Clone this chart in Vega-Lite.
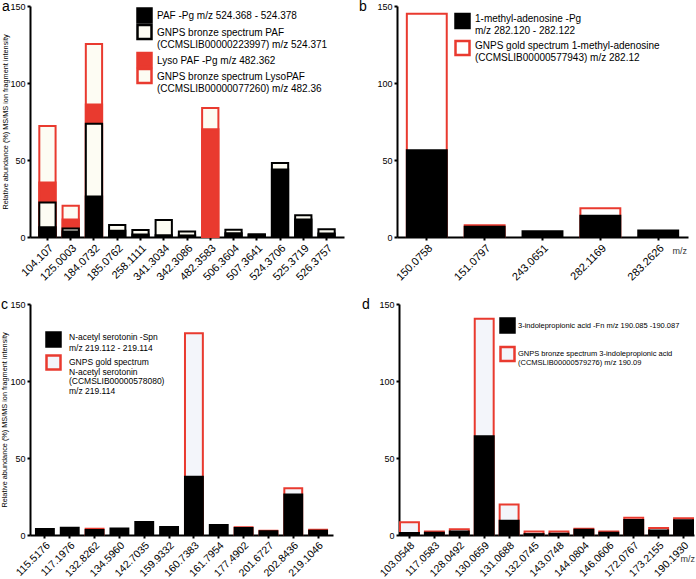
{
  "$schema": "https://vega.github.io/schema/vega-lite/v6.json",
  "padding": {"left": 0, "top": 0, "right": 2, "bottom": 0},
  "background": "white",
  "datasets": {
    "a": [
      {"mz": "104.107", "s": "GL", "v": 72}, {"mz": "104.107", "s": "L", "v": 35.4}, {"mz": "104.107", "s": "GP", "v": 22.4}, {"mz": "104.107", "s": "P", "v": 6.3},
      {"mz": "125.0003", "s": "GL", "v": 20.3}, {"mz": "125.0003", "s": "L", "v": 11.4}, {"mz": "125.0003", "s": "GP", "v": 5.6}, {"mz": "125.0003", "s": "P", "v": 3.6},
      {"mz": "184.0732", "s": "GL", "v": 125.4}, {"mz": "184.0732", "s": "L", "v": 86}, {"mz": "184.0732", "s": "GP", "v": 73.6}, {"mz": "184.0732", "s": "P", "v": 26.3},
      {"mz": "185.0762", "s": "GP", "v": 7.8}, {"mz": "185.0762", "s": "P", "v": 4},
      {"mz": "258.1111", "s": "GP", "v": 4.5}, {"mz": "258.1111", "s": "P", "v": 1.7},
      {"mz": "341.3034", "s": "GP", "v": 11}, {"mz": "341.3034", "s": "P", "v": 1.2},
      {"mz": "342.3086", "s": "GP", "v": 3.5}, {"mz": "342.3086", "s": "P", "v": 1},
      {"mz": "482.3583", "s": "GL", "v": 83.7}, {"mz": "482.3583", "s": "L", "v": 70},
      {"mz": "506.3604", "s": "GP", "v": 4.7}, {"mz": "506.3604", "s": "P", "v": 2.4},
      {"mz": "507.3641", "s": "GP", "v": 1.7}, {"mz": "507.3641", "s": "P", "v": 1.7},
      {"mz": "524.3706", "s": "GP", "v": 48}, {"mz": "524.3706", "s": "P", "v": 43.8},
      {"mz": "525.3719", "s": "GP", "v": 14.2}, {"mz": "525.3719", "s": "P", "v": 11.4},
      {"mz": "526.3757", "s": "GP", "v": 5}, {"mz": "526.3757", "s": "P", "v": 2.2}
    ],
    "b": [
      {"mz": "150.0758", "s": "G", "v": 145}, {"mz": "150.0758", "s": "S", "v": 56.4},
      {"mz": "151.0797", "s": "G", "v": 7.6}, {"mz": "151.0797", "s": "S", "v": 6.7},
      {"mz": "243.0651", "s": "S", "v": 3.7},
      {"mz": "282.1169", "s": "G", "v": 18.6}, {"mz": "282.1169", "s": "S", "v": 13.8},
      {"mz": "283.2626", "s": "S", "v": 4.3}
    ],
    "c": [
      {"mz": "115.5176", "s": "S", "v": 3.9},
      {"mz": "117.1976", "s": "S", "v": 4.7},
      {"mz": "132.8262", "s": "G", "v": 4.1}, {"mz": "132.8262", "s": "S", "v": 3.2},
      {"mz": "134.5960", "s": "S", "v": 4.3},
      {"mz": "142.7035", "s": "S", "v": 8.4},
      {"mz": "159.9332", "s": "S", "v": 5.2},
      {"mz": "160.7383", "s": "G", "v": 131}, {"mz": "160.7383", "s": "S", "v": 37.9},
      {"mz": "161.7954", "s": "S", "v": 6.5},
      {"mz": "177.4902", "s": "G", "v": 5}, {"mz": "177.4902", "s": "S", "v": 4.5},
      {"mz": "201.6727", "s": "G", "v": 2.8}, {"mz": "201.6727", "s": "S", "v": 2.4},
      {"mz": "202.8436", "s": "G", "v": 30.4}, {"mz": "202.8436", "s": "S", "v": 26.3},
      {"mz": "219.1046", "s": "G", "v": 3.4}, {"mz": "219.1046", "s": "S", "v": 2.8}
    ],
    "d": [
      {"mz": "103.0548", "s": "G", "v": 8.2}, {"mz": "103.0548", "s": "S", "v": 1.3},
      {"mz": "117.0583", "s": "G", "v": 2.2}, {"mz": "117.0583", "s": "S", "v": 1.5},
      {"mz": "128.0492", "s": "G", "v": 3.7}, {"mz": "128.0492", "s": "S", "v": 2.2},
      {"mz": "130.0659", "s": "G", "v": 140.5}, {"mz": "130.0659", "s": "S", "v": 64.2},
      {"mz": "131.0688", "s": "G", "v": 19.8}, {"mz": "131.0688", "s": "S", "v": 9.3},
      {"mz": "132.0745", "s": "G", "v": 2.2}, {"mz": "132.0745", "s": "S", "v": 0.6},
      {"mz": "143.0748", "s": "G", "v": 2.2}, {"mz": "143.0748", "s": "S", "v": 0.8},
      {"mz": "144.0804", "s": "G", "v": 4.1}, {"mz": "144.0804", "s": "S", "v": 3.4},
      {"mz": "146.0606", "s": "G", "v": 2.2}, {"mz": "146.0606", "s": "S", "v": 1.5},
      {"mz": "172.0767", "s": "G", "v": 11.2}, {"mz": "172.0767", "s": "S", "v": 9.7},
      {"mz": "173.2155", "s": "G", "v": 4.5}, {"mz": "173.2155", "s": "S", "v": 3},
      {"mz": "190.1930", "s": "G", "v": 10.8}, {"mz": "190.1930", "s": "S", "v": 9.5}
    ]
  },
  "vconcat": [
    {
      "hconcat": [
        {
          "width": 314, "height": 231,
          "title": {"text": "a", "anchor": "start", "frame": "bounds", "offset": -12},
          "data": {"name": "a"},
          "encoding": {
            "x": {"field": "mz", "type": "ordinal", "scale": {"paddingInner": 0.3, "paddingOuter": 0.4}, "axis": {"title": null, "labelFontSize": 11}},
            "y": {"field": "v", "type": "quantitative", "stack": null, "scale": {"domain": [0, 150], "nice": false}, "axis": {"values": [0, 50, 100, 150], "title": "Relative abundance (%) MS/MS ion fragment intensity", "titlePadding": 0}}
          },
          "layer": [
            {"transform": [{"filter": "datum.s == 'GL'"}], "mark": {"type": "bar", "strokeWidth": 2},
             "encoding": {
              "fill": {"field": "s", "type": "nominal", "scale": {"domain": ["GL"], "range": ["#fdfcf3"]}, "legend": {"legendX": 106, "legendY": 61.5, "labelFontSize": 10, "encode": {"labels": {"update": {"dy": {"value": 3.5}}}}, "labelExpr": "['GNPS bronze spectrum LysoPAF', '(CCMSLIB00000077260) m/z 482.36']"}},
              "stroke": {"field": "s", "type": "nominal", "scale": {"domain": ["GL"], "range": ["#e93a2f"]}, "legend": {"legendX": 106, "legendY": 61.5, "labelFontSize": 10, "encode": {"labels": {"update": {"dy": {"value": 3.5}}}}, "labelExpr": "['GNPS bronze spectrum LysoPAF', '(CCMSLIB00000077260) m/z 482.36']"}}}},
            {"transform": [{"filter": "datum.s == 'L'"}], "mark": {"type": "bar", "strokeWidth": 2},
             "encoding": {
              "fill": {"field": "s", "type": "nominal", "scale": {"domain": ["L"], "range": ["#e93a2f"]}, "legend": {"legendX": 106, "legendY": 45.5, "labelFontSize": 10, "encode": {"labels": {"update": {"dy": {"value": 3.5}}}}, "labelExpr": "'Lyso PAF -Pg m/z 482.362'"}},
              "stroke": {"field": "s", "type": "nominal", "scale": {"domain": ["L"], "range": ["#e93a2f"]}, "legend": {"legendX": 106, "legendY": 45.5, "labelFontSize": 10, "encode": {"labels": {"update": {"dy": {"value": 3.5}}}}, "labelExpr": "'Lyso PAF -Pg m/z 482.362'"}}}},
            {"transform": [{"filter": "datum.s == 'GP'"}], "mark": {"type": "bar", "strokeWidth": 2},
             "encoding": {
              "fill": {"field": "s", "type": "nominal", "scale": {"domain": ["GP"], "range": ["#fdfcf3"]}, "legend": {"legendX": 106, "legendY": 17.5, "labelFontSize": 10, "encode": {"labels": {"update": {"dy": {"value": 3.5}}}}, "labelExpr": "['GNPS bronze spectrum PAF', '(CCMSLIB00000223997) m/z 524.371']"}},
              "stroke": {"field": "s", "type": "nominal", "scale": {"domain": ["GP"], "range": ["#000000"]}, "legend": {"legendX": 106, "legendY": 17.5, "labelFontSize": 10, "encode": {"labels": {"update": {"dy": {"value": 3.5}}}}, "labelExpr": "['GNPS bronze spectrum PAF', '(CCMSLIB00000223997) m/z 524.371']"}}}},
            {"transform": [{"filter": "datum.s == 'P'"}], "mark": {"type": "bar", "strokeWidth": 2},
             "encoding": {
              "fill": {"field": "s", "type": "nominal", "scale": {"domain": ["P"], "range": ["#000000"]}, "legend": {"legendX": 106, "legendY": 1, "labelFontSize": 10, "encode": {"labels": {"update": {"dy": {"value": 3.5}}}}, "labelExpr": "'PAF -Pg m/z 524.368 - 524.378'"}},
              "stroke": {"field": "s", "type": "nominal", "scale": {"domain": ["P"], "range": ["#000000"]}, "legend": {"legendX": 106, "legendY": 1, "labelFontSize": 10, "encode": {"labels": {"update": {"dy": {"value": 3.5}}}}, "labelExpr": "'PAF -Pg m/z 524.368 - 524.378'"}}}}
          ],
          "resolve": {"scale": {"fill": "independent", "stroke": "independent"}, "legend": {"fill": "independent", "stroke": "independent"}}
        },
        {
          "width": 291, "height": 231,
          "title": {"text": "b", "anchor": "start", "frame": "bounds", "offset": -12, "dx": -18},
          "data": {"name": "b"},
          "encoding": {
            "x": {"field": "mz", "type": "ordinal", "scale": {"paddingInner": 0.31, "paddingOuter": 0.17}, "axis": {"labelFontSize": 11, "title": "m/z", "titleAngle": 0, "titleX": 275, "titleY": 16, "titleAlign": "left", "titleBaseline": "alphabetic", "titleFontSize": 9, "titleColor": "#333"}},
            "y": {"field": "v", "type": "quantitative", "stack": null, "scale": {"domain": [0, 150], "nice": false}, "axis": {"values": [0, 50, 100, 150], "title": null}}
          },
          "layer": [
            {"transform": [{"filter": "datum.s == 'G'"}], "mark": {"type": "bar", "strokeWidth": 2},
             "encoding": {
              "fill": {"field": "s", "type": "nominal", "scale": {"domain": ["G"], "range": ["#ffffff"]}, "legend": {"legendX": 57, "legendY": 33.5, "labelFontSize": 10, "encode": {"labels": {"update": {"dy": {"value": 1}}}}, "labelExpr": "['GNPS gold spectrum 1-methyl-adenosine', '(CCMSLIB00000577943) m/z 282.12']"}},
              "stroke": {"field": "s", "type": "nominal", "scale": {"domain": ["G"], "range": ["#e93a2f"]}, "legend": {"legendX": 57, "legendY": 33.5, "labelFontSize": 10, "encode": {"labels": {"update": {"dy": {"value": 1}}}}, "labelExpr": "['GNPS gold spectrum 1-methyl-adenosine', '(CCMSLIB00000577943) m/z 282.12']"}}}},
            {"transform": [{"filter": "datum.s == 'S'"}], "mark": {"type": "bar", "strokeWidth": 2},
             "encoding": {
              "fill": {"field": "s", "type": "nominal", "scale": {"domain": ["S"], "range": ["#000000"]}, "legend": {"legendX": 57, "legendY": 6.5, "labelFontSize": 10, "encode": {"labels": {"update": {"dy": {"value": 1}}}}, "labelExpr": "['1-methyl-adenosine -Pg', 'm/z 282.120 - 282.122']"}},
              "stroke": {"field": "s", "type": "nominal", "scale": {"domain": ["S"], "range": ["#000000"]}, "legend": {"legendX": 57, "legendY": 6.5, "labelFontSize": 10, "encode": {"labels": {"update": {"dy": {"value": 1}}}}, "labelExpr": "['1-methyl-adenosine -Pg', 'm/z 282.120 - 282.122']"}}}}
          ],
          "resolve": {"scale": {"fill": "independent", "stroke": "independent"}, "legend": {"fill": "independent", "stroke": "independent"}}
        }
      ],
      "spacing": 14,
      "resolve": {"scale": {"x": "independent", "y": "independent"}}
    },
    {
      "hconcat": [
        {
          "width": 303, "height": 231,
          "title": {"text": "c", "anchor": "start", "frame": "bounds", "offset": -12},
          "data": {"name": "c"},
          "encoding": {
            "x": {"field": "mz", "type": "ordinal", "scale": {"paddingInner": 0.28, "paddingOuter": 0.24}, "axis": {"title": null}},
            "y": {"field": "v", "type": "quantitative", "stack": null, "scale": {"domain": [0, 150], "nice": false}, "axis": {"values": [0, 50, 100, 150], "title": "Relative abundance (%) MS/MS ion fragment intensity", "titlePadding": 1}}
          },
          "layer": [
            {"transform": [{"filter": "datum.s == 'G'"}], "mark": {"type": "bar", "strokeWidth": 2},
             "encoding": {
              "fill": {"field": "s", "type": "nominal", "scale": {"domain": ["G"], "range": ["#f3f5fa"]}, "legend": {"legendX": 15, "legendY": 50, "labelFontSize": 8.5, "labelOffset": 7, "encode": {"labels": {"update": {"dy": {"value": 2.5}, "lineHeight": {"value": 9.5}}}}, "labelExpr": "['GNPS gold spectrum', 'N-acetyl serotonin', '(CCMSLIB00000578080)', 'm/z 219.114']"}},
              "stroke": {"field": "s", "type": "nominal", "scale": {"domain": ["G"], "range": ["#e93a2f"]}, "legend": {"legendX": 15, "legendY": 50, "labelFontSize": 8.5, "labelOffset": 7, "encode": {"labels": {"update": {"dy": {"value": 2.5}, "lineHeight": {"value": 9.5}}}}, "labelExpr": "['GNPS gold spectrum', 'N-acetyl serotonin', '(CCMSLIB00000578080)', 'm/z 219.114']"}}}},
            {"transform": [{"filter": "datum.s == 'S'"}], "mark": {"type": "bar", "strokeWidth": 2},
             "encoding": {
              "fill": {"field": "s", "type": "nominal", "scale": {"domain": ["S"], "range": ["#000000"]}, "legend": {"legendX": 15, "legendY": 27, "labelFontSize": 8.5, "labelOffset": 7, "encode": {"labels": {"update": {"dy": {"value": 0.5}, "lineHeight": {"value": 11}}}}, "labelExpr": "['N-acetyl serotonin -Spn', 'm/z 219.112 - 219.114']"}},
              "stroke": {"field": "s", "type": "nominal", "scale": {"domain": ["S"], "range": ["#000000"]}, "legend": {"legendX": 15, "legendY": 27, "labelFontSize": 8.5, "labelOffset": 7, "encode": {"labels": {"update": {"dy": {"value": 0.5}, "lineHeight": {"value": 11}}}}, "labelExpr": "['N-acetyl serotonin -Spn', 'm/z 219.112 - 219.114']"}}}}
          ],
          "resolve": {"scale": {"fill": "independent", "stroke": "independent"}, "legend": {"fill": "independent", "stroke": "independent"}}
        },
        {
          "width": 295, "height": 231,
          "title": {"text": "d", "anchor": "start", "frame": "bounds", "offset": -12, "dx": -16},
          "data": {"name": "d"},
          "encoding": {
            "x": {"field": "mz", "type": "ordinal", "scale": {"paddingInner": 0.24, "paddingOuter": 0.04}, "axis": {"title": "m/z", "titleAngle": 0, "titleX": 281, "titleY": 26, "titleAlign": "left", "titleBaseline": "alphabetic", "titleFontSize": 9, "titleColor": "#333"}},
            "y": {"field": "v", "type": "quantitative", "stack": null, "scale": {"domain": [0, 150], "nice": false}, "axis": {"values": [0, 50, 100, 150], "title": null}}
          },
          "layer": [
            {"transform": [{"filter": "datum.s == 'G'"}], "mark": {"type": "bar", "strokeWidth": 2},
             "encoding": {
              "fill": {"field": "s", "type": "nominal", "scale": {"domain": ["G"], "range": ["#f3f5fa"]}, "legend": {"legendX": 100, "legendY": 41.5, "labelFontSize": 7.5, "labelOffset": 2, "encode": {"labels": {"update": {"dy": {"value": 1.5}}}}, "labelExpr": "['GNPS bronze spectrum 3-indolepropionic acid', '(CCMSLIB00000579276) m/z 190.09']"}},
              "stroke": {"field": "s", "type": "nominal", "scale": {"domain": ["G"], "range": ["#e93a2f"]}, "legend": {"legendX": 100, "legendY": 41.5, "labelFontSize": 7.5, "labelOffset": 2, "encode": {"labels": {"update": {"dy": {"value": 1.5}}}}, "labelExpr": "['GNPS bronze spectrum 3-indolepropionic acid', '(CCMSLIB00000579276) m/z 190.09']"}}}},
            {"transform": [{"filter": "datum.s == 'S'"}], "mark": {"type": "bar", "strokeWidth": 2},
             "encoding": {
              "fill": {"field": "s", "type": "nominal", "scale": {"domain": ["S"], "range": ["#000000"]}, "legend": {"legendX": 100, "legendY": 13, "labelFontSize": 7.5, "labelOffset": 2, "encode": {"labels": {"update": {"dy": {"value": 2.7}}}}, "labelExpr": "'3-indolepropionic acid -Fn m/z 190.085 -190.087'"}},
              "stroke": {"field": "s", "type": "nominal", "scale": {"domain": ["S"], "range": ["#000000"]}, "legend": {"legendX": 100, "legendY": 13, "labelFontSize": 7.5, "labelOffset": 2, "encode": {"labels": {"update": {"dy": {"value": 2.7}}}}, "labelExpr": "'3-indolepropionic acid -Fn m/z 190.085 -190.087'"}}}}
          ],
          "resolve": {"scale": {"fill": "independent", "stroke": "independent"}, "legend": {"fill": "independent", "stroke": "independent"}}
        }
      ],
      "spacing": 28,
      "resolve": {"scale": {"x": "independent", "y": "independent"}}
    }
  ],
  "spacing": 15,
  "resolve": {"scale": {"x": "independent", "y": "independent"}},
  "config": {
    "font": "Liberation Sans",
    "view": {"stroke": null},
    "title": {"fontSize": 14, "fontWeight": "normal", "color": "black"},
    "axis": {"grid": false, "domainColor": "black", "domainWidth": 2, "tickColor": "black", "tickWidth": 2, "tickSize": 3, "labelColor": "black", "labelFontSize": 9, "labelPadding": 2, "titleFontWeight": "normal", "titleColor": "black"},
    "axisX": {"labelAngle": -45, "labelFontSize": 10.5},
    "axisY": {"titleFontSize": 7.3},
    "legend": {"orient": "none", "title": null, "padding": 0, "symbolType": "square", "symbolSize": 196, "symbolStrokeWidth": 2.5, "labelLimit": 400, "labelColor": "black", "labelBaseline": "alphabetic", "labelOffset": 4}
  }
}
